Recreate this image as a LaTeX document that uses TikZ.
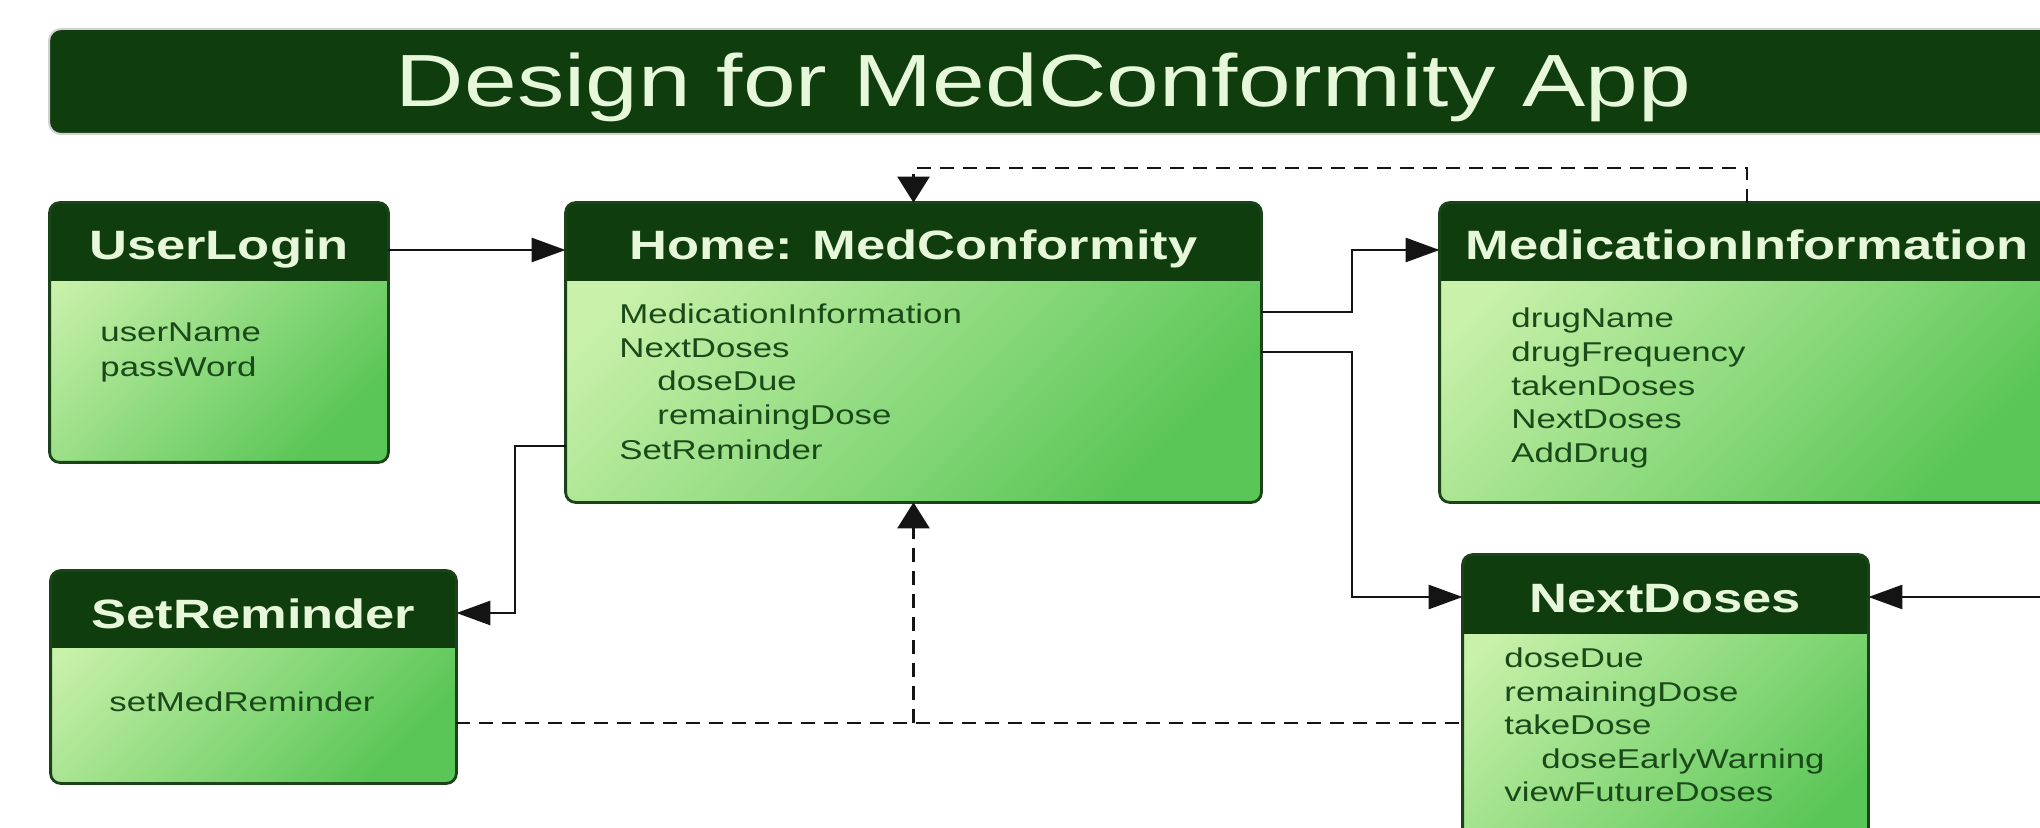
\documentclass[tikz,border=0pt]{standalone}
\usepackage{fontspec}
\setmainfont[FakeStretch=1.28]{Liberation Sans}
\usetikzlibrary{arrows.meta,fit,calc}
\definecolor{hdrgreen}{HTML}{103D0E}
\definecolor{hdrtxt}{HTML}{E6F7DA}
\definecolor{bodylight}{HTML}{C9F1AA}
\definecolor{bodydark}{HTML}{5AC657}
\definecolor{bordergreen}{HTML}{1B431A}
\definecolor{bodytxt}{HTML}{1B4A1A}
\definecolor{linecol}{HTML}{141414}
\newcommand\classbox[7]{%
  \node[boxbody, fit={(#2,#3) (#4,#5)}] (#1) {};
  \begin{scope}
    \clip[rounded corners=5pt] (#2,#3) rectangle (#4,#5);
    \fill[hdrfill] (#2,#3) rectangle (#4,#6);
  \end{scope}
  \draw[boxborder] (#1.north west) rectangle (#1.south east);
  \node[hdrtext] (#1-title) at ({(#2+#4)/2},{#3+57}) {#7};
}
\begin{document}
\begin{tikzpicture}[x=0.5pt,y=-0.5pt,
  boxbody/.style={inner sep=0pt, rounded corners=5pt, left color=bodylight, right color=bodydark, shading angle=45},
  hdrfill/.style={fill=hdrgreen},
  boxborder/.style={draw=bordergreen, line width=1.4pt, rounded corners=5pt},
  titletext/.style={anchor=base, inner sep=0pt, text=hdrtxt, font=\fontsize{37}{44}\selectfont},
  hdrtext/.style={anchor=base, inner sep=0pt, text=hdrtxt, font=\fontsize{20.5}{24}\selectfont\bfseries},
  bodytext/.style={anchor=base west, inner sep=0pt, text=bodytxt, font=\fontsize{13.6}{16}\selectfont},
  conn/.style={draw=linecol, line width=1.35pt},
  harrow/.style={-{Triangle[length=17pt,width=12pt]}},
  varrow/.style={-{Triangle[length=13pt,width=16pt]}},
  dashconn/.style={conn, dash pattern=on 7pt off 4.5pt},
]
\useasboundingbox (0,0) rectangle (2040,828);
\fill[white] (0,0) rectangle (2040,828);
\clip (0,0) rectangle (2040,828);

% title bar
\node[fit={(49,29) (2070,134)}, inner sep=0pt, fill=hdrgreen, draw=black!18, line width=1pt, rounded corners=6pt] (titlebar) {};
\node[titletext] (title) at (1043.5,107) {Design for MedConformity App};

% class boxes
\classbox{ul}{50}{203}{388}{462}{281}{UserLogin}
\classbox{home}{566}{203}{1261}{502}{281}{Home: MedConformity}
\classbox{mi}{1440}{203}{2054}{502}{281}{MedicationInformation}
\classbox{sr}{51}{571}{456}{783}{648}{SetReminder}
\classbox{nd}{1463}{555}{1868}{880}{634}{NextDoses}

% body texts
\node[bodytext] (ul-1) at (100,342) {userName};
\node[bodytext] (ul-2) at (100,377) {passWord};

\node[bodytext] (home-1) at (619,324) {MedicationInformation};
\node[bodytext] (home-2) at (619,358) {NextDoses};
\node[bodytext] (home-3) at (657,391) {doseDue};
\node[bodytext] (home-4) at (657,425) {remainingDose};
\node[bodytext] (home-5) at (619,459) {SetReminder};

\node[bodytext] (mi-1) at (1511,328) {drugName};
\node[bodytext] (mi-2) at (1511,362) {drugFrequency};
\node[bodytext] (mi-3) at (1511,396) {takenDoses};
\node[bodytext] (mi-4) at (1511,429) {NextDoses};
\node[bodytext] (mi-5) at (1511,463) {AddDrug};

\node[bodytext] (sr-1) at (109,711) {setMedReminder};

\node[bodytext] (nd-1) at (1504,667) {doseDue};
\node[bodytext] (nd-2) at (1504,701) {remainingDose};
\node[bodytext] (nd-3) at (1504,734) {takeDose};
\node[bodytext] (nd-4) at (1541,768) {doseEarlyWarning};
\node[bodytext] (nd-5) at (1504,801) {viewFutureDoses};

% helper coordinates
\coordinate (yA) at (0,250);
\coordinate (yB) at (0,312);
\coordinate (yC) at (0,352);
\coordinate (yD) at (0,597);
\coordinate (yE) at (0,446);
\coordinate (yF) at (0,613);
\coordinate (yG) at (0,723);
\coordinate (yT) at (0,168);
\coordinate (jx) at (1352,0);
\coordinate (kx) at (515,0);
\coordinate (rend) at (2050,597);

% connectors
\draw[conn,harrow] (ul.east |- yA) -- (home.west |- yA);
\draw[conn,harrow] (home.east |- yB) -- (jx |- yB) -- (jx |- yA) -- (mi.west |- yA);
\draw[conn,harrow] (home.east |- yC) -- (jx |- yC) -- (jx |- yD) -- (nd.west |- yD);
\draw[conn,harrow] (home.west |- yE) -- (kx |- yE) -- (kx |- yF) -- (sr.east |- yF);
\draw[conn,harrow] (rend) -- (nd.east |- rend);
\draw[dashconn,varrow] (mi.north) -- (mi.north |- yT) -- (home.north |- yT) -- (home.north);
\draw[dashconn] (sr.east |- yG) -- (nd.west |- yG);
\draw[dashconn,varrow] (home.south |- yG) -- (home.south);
\end{tikzpicture}
\end{document}
